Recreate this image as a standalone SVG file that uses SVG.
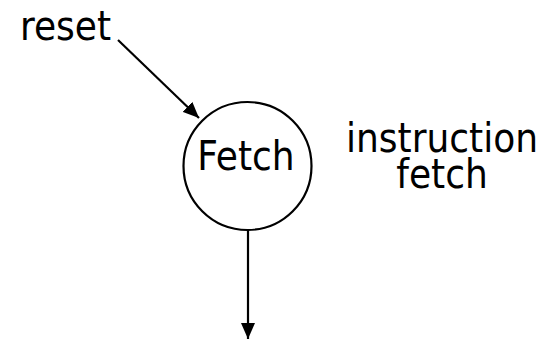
<svg xmlns="http://www.w3.org/2000/svg" width="544" height="339" viewBox="0 0 544 339">
<style>
text{font-family:"DejaVu Sans Condensed","DejaVu Sans",sans-serif;font-size:40px;fill:#000}
.ln{stroke:#000;stroke-width:2.2;fill:none}
</style>
<defs>
<marker id="ah" markerWidth="16" markerHeight="14" refX="16" refY="7" orient="auto" markerUnits="userSpaceOnUse">
<path d="M0,0 L16,7 L0,14 z" fill="#000"/>
</marker>
</defs>
<rect width="544" height="339" fill="#fff"/>
<g id="reset"><text x="20" y="40">reset</text></g>
<g id="fetch">
<circle cx="247.5" cy="166" r="64" fill="#fff" stroke="#000" stroke-width="2.2"/>
<text x="246" y="170" text-anchor="middle">Fetch</text>
</g>
<g id="label"><text x="442" y="152" text-anchor="middle">instruction</text><text x="442" y="188" text-anchor="middle">fetch</text></g>
<g id="connectors">
<line class="ln" x1="118" y1="40" x2="199" y2="118" marker-end="url(#ah)"/>
<line class="ln" x1="248" y1="230" x2="248" y2="339" marker-end="url(#ah)"/>
</g>
</svg>
